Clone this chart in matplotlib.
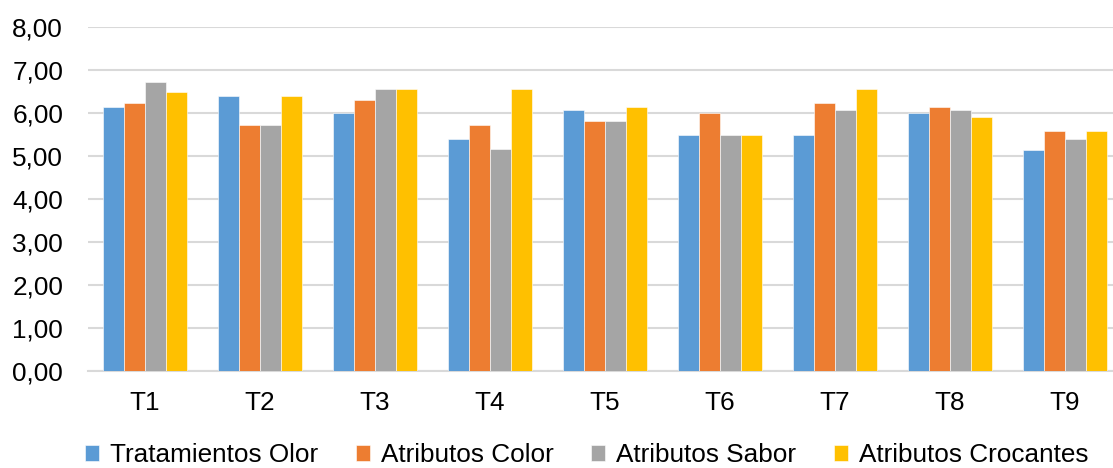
import matplotlib
matplotlib.use("Agg")
import matplotlib.pyplot as plt
import numpy as np

categories = ["T1", "T2", "T3", "T4", "T5", "T6", "T7", "T8", "T9"]
olor = [6.15, 6.40, 6.00, 5.40, 6.06, 5.48, 5.48, 6.00, 5.15]
color = [6.24, 5.73, 6.31, 5.73, 5.81, 6.00, 6.24, 6.14, 5.57]
sabor = [6.73, 5.73, 6.56, 5.16, 5.81, 5.48, 6.06, 6.06, 5.40]
crocantes = [6.49, 6.40, 6.56, 6.56, 6.15, 5.48, 6.56, 5.91, 5.57]

series = [
    ("Tratamientos Olor", olor, "#5B9BD5"),
    ("Atributos Color", color, "#ED7D31"),
    ("Atributos Sabor", sabor, "#A5A5A5"),
    ("Atributos Crocantes", crocantes, "#FFC000"),
]

plt.rcParams["font.family"] = ["Liberation Sans", "DejaVu Sans"]
FS = 18.8

W, H = 1113, 468
fig = plt.figure(figsize=(W / 100, H / 100), dpi=100)
ax = fig.add_axes([87.5 / W, (H - 371) / H, 1 - 87.5 / W, (371 - 27) / H])

x = np.arange(len(categories))
bw = 0.182
for i, (name, vals, col) in enumerate(series):
    ax.bar(x + (i - 1.5) * bw, vals, width=bw, color=col, label=name,
           edgecolor="white", linewidth=0.4, zorder=3)

ax.set_ylim(0, 8)
ax.set_xlim(-0.5, 8 + (W - 1065) / 115)
ax.set_yticks(np.arange(0, 9, 1))
ax.set_yticklabels([f"{v:.2f}".replace(".", ",") for v in range(0, 9)], fontsize=FS)
ax.set_xticks(x)
ax.set_xticklabels(categories, fontsize=FS)
ax.tick_params(axis="both", length=0, colors="#000000")
ax.tick_params(axis="y", pad=17.6)
ax.tick_params(axis="x", pad=14.4)
ax.yaxis.grid(True, color="#d9d9d9", linewidth=1.5, zorder=0)
for s in ["top", "right", "left"]:
    ax.spines[s].set_visible(False)
ax.spines["bottom"].set_color("#d9d9d9")
ax.spines["bottom"].set_linewidth(1.5)

fig.legend(loc="center", bbox_to_anchor=(0.527, (H - 455) / H), ncol=4,
           frameon=False, fontsize=FS, handlelength=0.54, handleheight=0.54,
           handletextpad=0.41, columnspacing=1.45, borderaxespad=0,
           borderpad=0)

fig.savefig("out.png", dpi=100)
